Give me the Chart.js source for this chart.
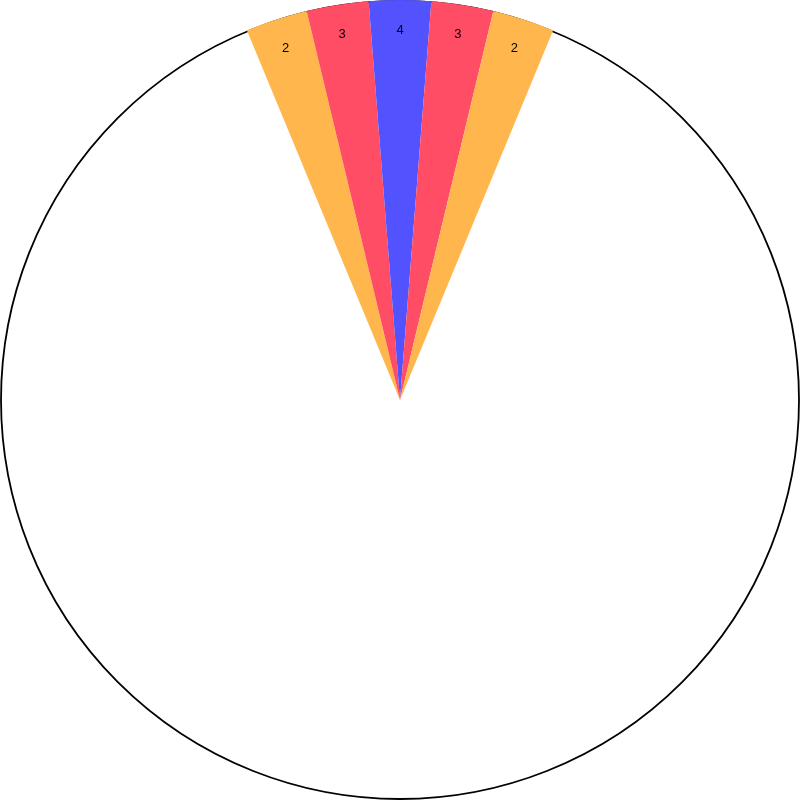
<!DOCTYPE html>
<html>
<head>
<meta charset="utf-8">
<script src="https://cdn.jsdelivr.net/npm/chart.js@4.4.1/dist/chart.umd.min.js"></script>
<style>
  html, body { margin: 0; padding: 0; background: #ffffff; }
  #wrap { width: 800px; height: 800px; }
</style>
</head>
<body>
<div id="wrap"><canvas id="c" width="800" height="800"></canvas></div>
<script>
// Category labels shown inside the wedges
const categories = ['2', '3', '4', '3', '2', ''];
// Share of the full circle taken by each wedge (each coloured wedge ~1/40 of the circle)
const shares = [1, 1, 1, 1, 1, 35];
// Wedge colours (the remaining wedge is left blank)
const colors = ['#FFB74D', '#FF4D66', '#5252FF', '#FF4D66', '#FFB74D', 'rgba(255,255,255,0)'];

const outlinePlugin = {
  id: 'outline',
  beforeDatasetsDraw(chart) {
    const arc = chart.getDatasetMeta(0).data[0];
    if (!arc) return;
    const ctx = chart.ctx;
    ctx.save();
    ctx.beginPath();
    ctx.arc(arc.x, arc.y, arc.outerRadius - 1, 0, Math.PI * 2);
    ctx.lineWidth = 1.8;
    ctx.strokeStyle = '#000000';
    ctx.stroke();
    ctx.restore();
  }
};

const labelPlugin = {
  id: 'sliceLabels',
  afterDatasetsDraw(chart) {
    const meta = chart.getDatasetMeta(0);
    const ctx = chart.ctx;
    ctx.save();
    ctx.font = '13px "Liberation Sans", Arial, sans-serif';
    ctx.fillStyle = '#000000';
    ctx.textAlign = 'center';
    ctx.textBaseline = 'middle';
    meta.data.forEach((arc, i) => {
      const txt = categories[i];
      if (!txt) return;
      const mid = (arc.startAngle + arc.endAngle) / 2;
      const r = arc.outerRadius * 0.925;
      ctx.fillText(txt, arc.x + Math.cos(mid) * r, arc.y + Math.sin(mid) * r);
    });
    ctx.restore();
  }
};

new Chart(document.getElementById('c'), {
  type: 'pie',
  data: {
    labels: categories,
    datasets: [{
      data: shares,
      backgroundColor: colors,
      borderWidth: 0
    }]
  },
  options: {
    responsive: false,
    animation: false,
    rotation: -22.5,
    layout: { padding: 0 },
    plugins: {
      legend: { display: false },
      tooltip: { enabled: false }
    }
  },
  plugins: [outlinePlugin, labelPlugin]
});
</script>
</body>
</html>
